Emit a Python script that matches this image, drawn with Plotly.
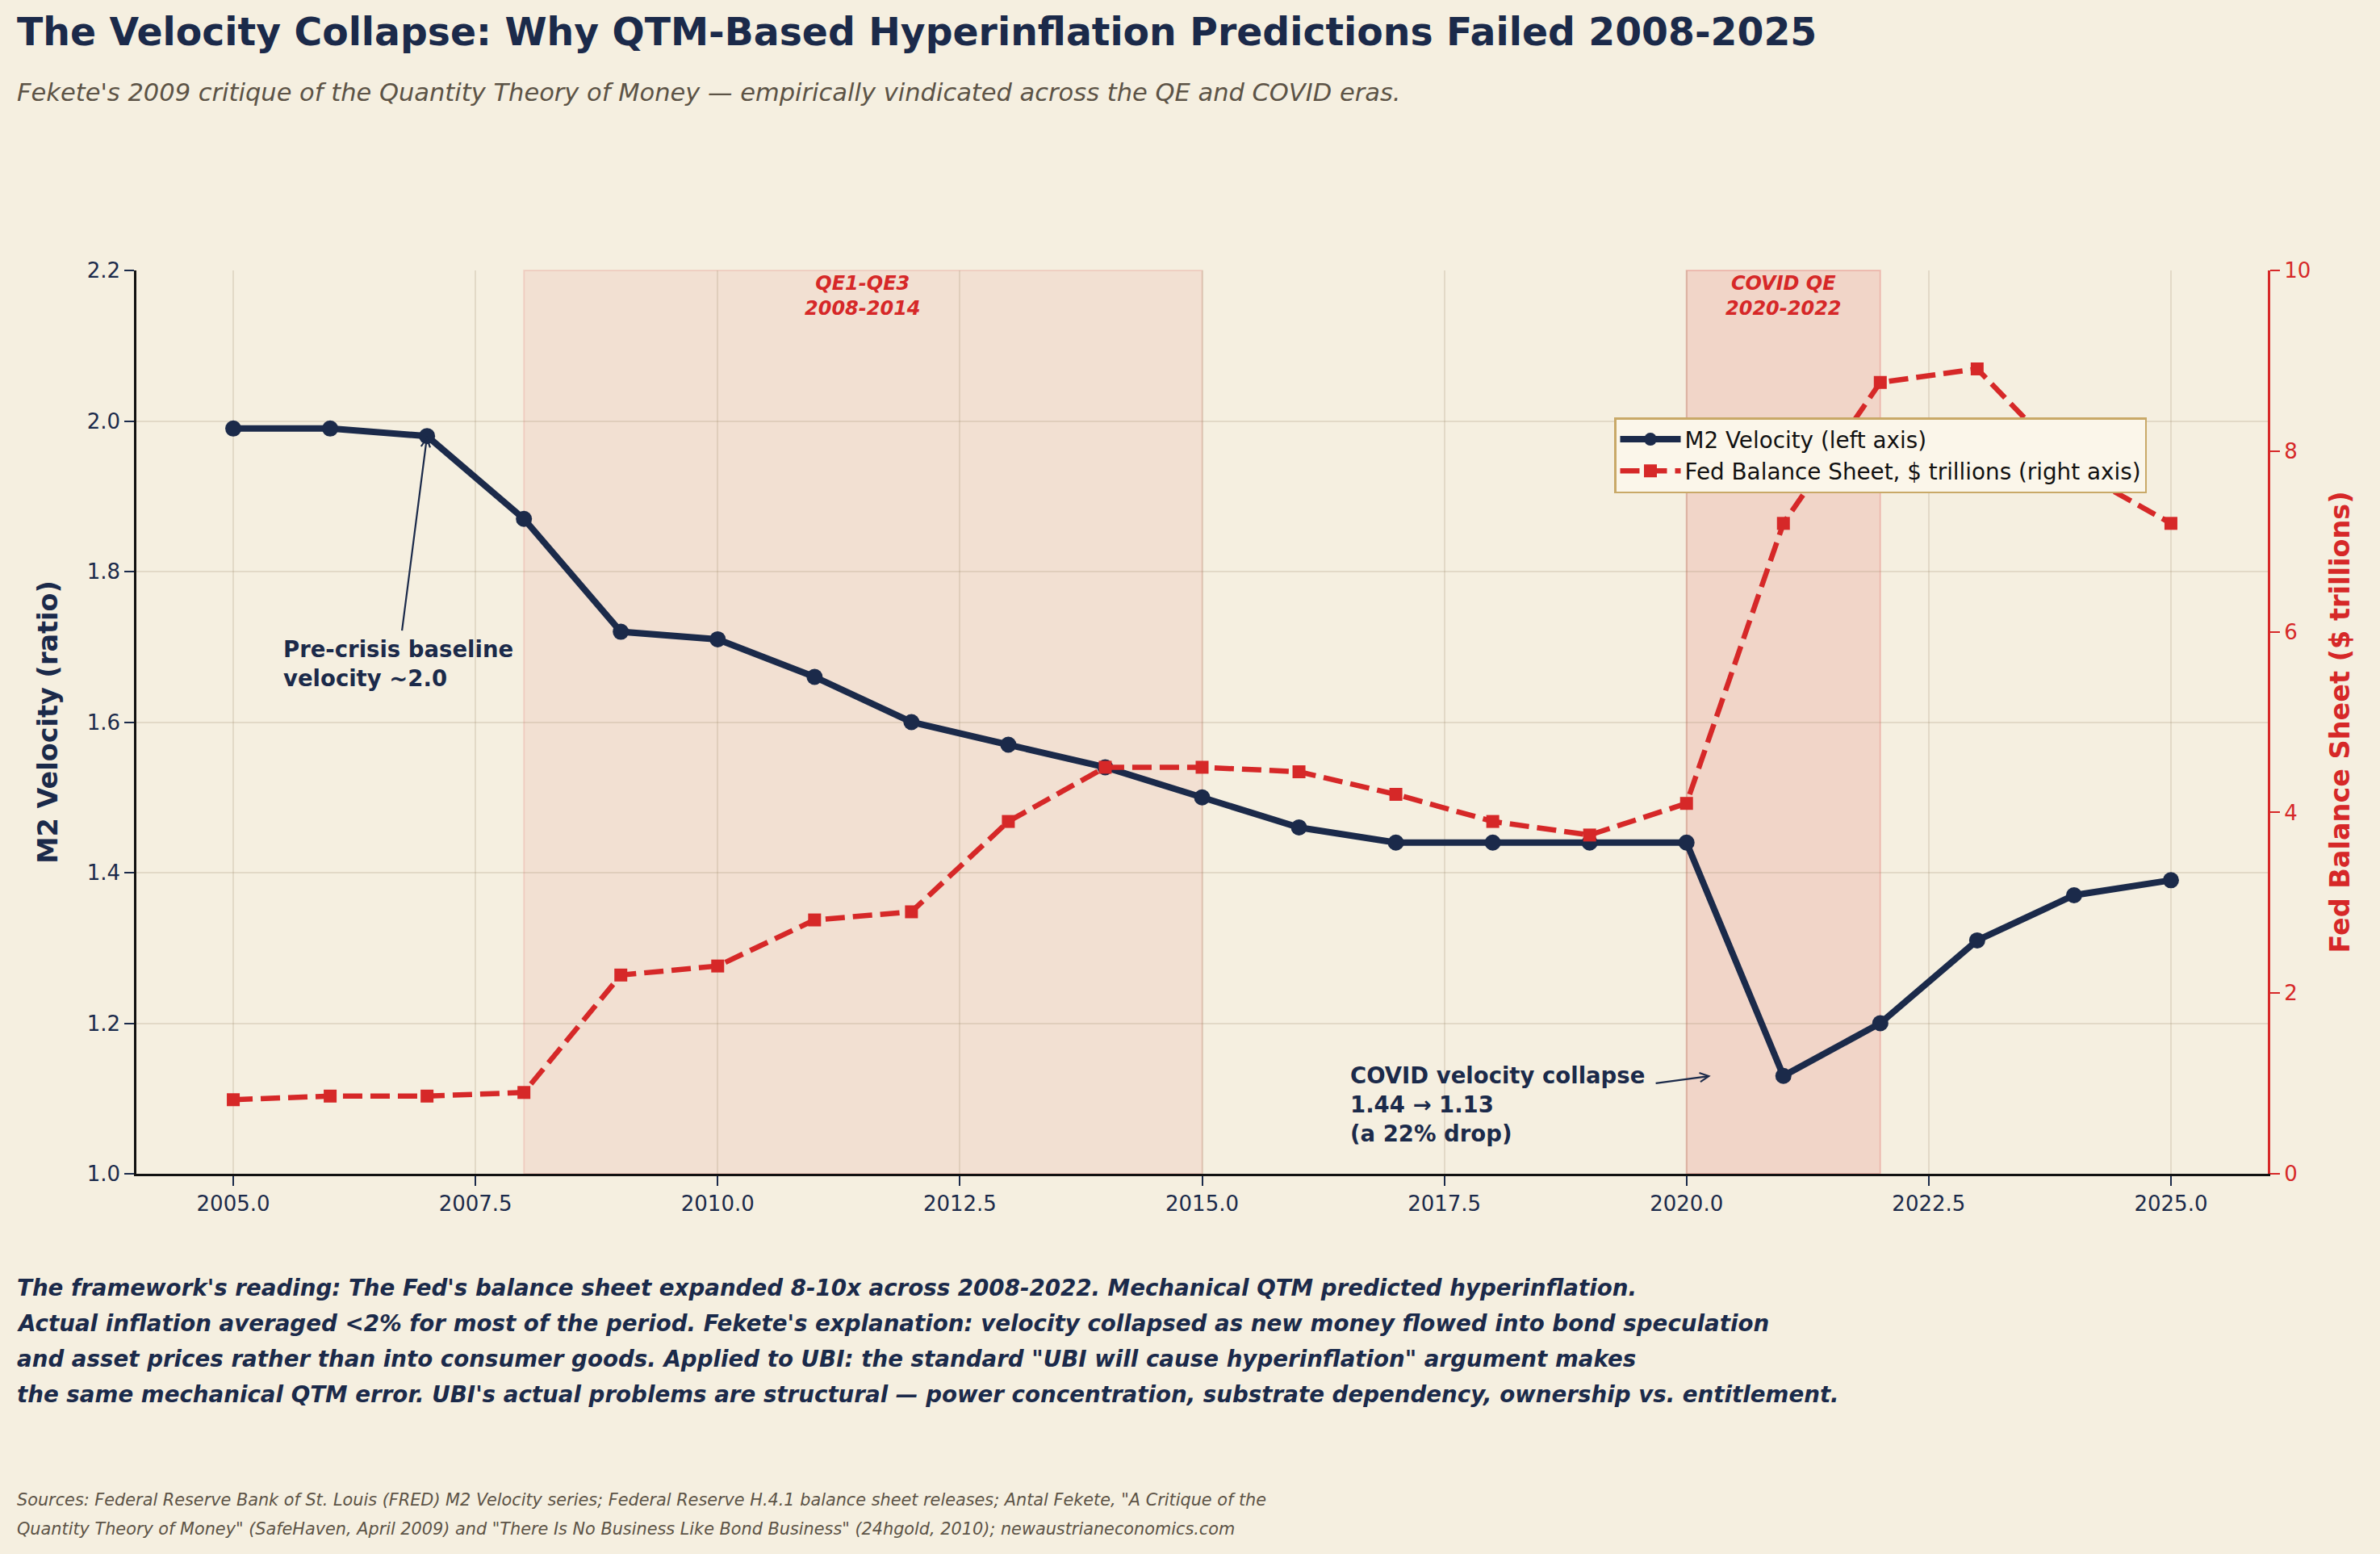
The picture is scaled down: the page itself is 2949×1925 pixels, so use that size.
import plotly.graph_objects as go

# ---------------- data ----------------
years = list(range(2005, 2026))
m2_velocity = [1.99, 1.99, 1.98, 1.87, 1.72, 1.71, 1.66, 1.60, 1.57, 1.54, 1.50,
               1.46, 1.44, 1.44, 1.44, 1.44, 1.13, 1.20, 1.31, 1.37, 1.39]
fed_balance = [0.82, 0.86, 0.86, 0.90, 2.20, 2.30, 2.81, 2.90, 3.90, 4.50, 4.50,
               4.45, 4.20, 3.90, 3.75, 4.10, 7.20, 8.76, 8.91, 7.80, 7.20]

qe_period = (2008, 2015)
covid_period = (2020, 2022)

title_text = "The Velocity Collapse: Why QTM-Based Hyperinflation Predictions Failed 2008-2025"
subtitle_text = ("Fekete's 2009 critique of the Quantity Theory of Money \u2014 "
                 "empirically vindicated across the QE and COVID eras.")
body_lines = [
    "The framework's reading: The Fed's balance sheet expanded 8-10x across 2008-2022. Mechanical QTM predicted hyperinflation.",
    "Actual inflation averaged <2% for most of the period. Fekete's explanation: velocity collapsed as new money flowed into bond speculation",
    "and asset prices rather than into consumer goods. Applied to UBI: the standard \"UBI will cause hyperinflation\" argument makes",
    "the same mechanical QTM error. UBI's actual problems are structural \u2014 power concentration, substrate dependency, ownership vs. entitlement.",
]
source_lines = [
    "Sources: Federal Reserve Bank of St. Louis (FRED) M2 Velocity series; Federal Reserve H.4.1 balance sheet releases; Antal Fekete, \"A Critique of the",
    "Quantity Theory of Money\" (SafeHaven, April 2009) and \"There Is No Business Like Bond Business\" (24hgold, 2010); newaustrianeconomics.com",
]

# ---------------- styling ----------------
W, H = 2949, 1925
L, R, T, B = 169, 2810, 335, 1454
BG = "#F5EFE0"
NAVY = "#1B2A4A"
RED = "#D62828"
MUTED = "#5C5346"
FONT = "DejaVu Sans"
GRID = "rgba(160,140,110,0.22)"


def px_x(px):
    return (px - L) / (R - L)


def px_y(py):
    return (B - py) / (B - T)


fig = go.Figure()

fig.add_trace(go.Scatter(
    x=years, y=m2_velocity, name="M2 Velocity (left axis)", mode="lines+markers",
    line=dict(color=NAVY, width=8), marker=dict(color=NAVY, size=20, symbol="circle"),
    yaxis="y"))
fig.add_trace(go.Scatter(
    x=years, y=fed_balance, name="Fed Balance Sheet, $ trillions (right axis)", mode="lines+markers",
    line=dict(color=RED, width=6.5, dash="24px,10px"),
    marker=dict(color=RED, size=16, symbol="square"),
    yaxis="y2"))

shapes = [
    dict(type="rect", xref="x", yref="paper", x0=qe_period[0], x1=qe_period[1], y0=0, y1=1,
         fillcolor="rgba(214,40,40,0.075)", line=dict(width=2, color="rgba(214,40,40,0.12)"), layer="below"),
    dict(type="rect", xref="x", yref="paper", x0=covid_period[0], x1=covid_period[1], y0=0, y1=1,
         fillcolor="rgba(214,40,40,0.13)", line=dict(width=2, color="rgba(214,40,40,0.2)"), layer="below"),
]

annotations = [
    dict(text=f"<b>{title_text}</b>", xref="paper", yref="paper", x=px_x(19), y=px_y(40),
         xanchor="left", yanchor="middle", showarrow=False,
         font=dict(family=FONT, size=47.3, color=NAVY)),
    dict(text=f"<i>{subtitle_text}</i>", xref="paper", yref="paper", x=px_x(19), y=px_y(115),
         xanchor="left", yanchor="middle", showarrow=False,
         font=dict(family=FONT, size=30.5, color=MUTED)),
    # period labels
    dict(text="<b><i>QE1-QE3<br>2008-2014</i></b>", xref="x", yref="paper",
         x=(qe_period[0] + qe_period[1]) / 2, y=1.0, xanchor="center", yanchor="top",
         showarrow=False, font=dict(family=FONT, size=24, color=RED)),
    dict(text="<b><i>COVID QE<br>2020-2022</i></b>", xref="x", yref="paper",
         x=(covid_period[0] + covid_period[1]) / 2, y=1.0, xanchor="center", yanchor="top",
         showarrow=False, font=dict(family=FONT, size=24, color=RED)),
    # pre-crisis annotation
    dict(text="<b>Pre-crisis baseline<br>velocity ~2.0</b>", xref="x", yref="y",
         x=2005.5, y=1.0 + (B - 822) / (B - T) * 1.2, xanchor="left", yanchor="middle",
         showarrow=False, align="left", font=dict(family=FONT, size=27.5, color=NAVY)),
    dict(text="", xref="x", yref="y", x=2007, y=1.98, axref="x", ayref="y",
         ax=2006.74, ay=1.72, showarrow=True, arrowhead=5, arrowsize=1, arrowwidth=2.2,
         arrowcolor=NAVY, standoff=0, startstandoff=0),
    # covid annotation
    dict(text="<b>COVID velocity collapse<br>1.44 \u2192 1.13<br>(a 22% drop)</b>", xref="x", yref="y",
         x=2016.51, y=1.0 + (B - 1368) / (B - T) * 1.2, xanchor="left", yanchor="middle",
         showarrow=False, align="left", font=dict(family=FONT, size=27.5, color=NAVY)),
    dict(text="", xref="x", yref="y", x=2020.25, y=1.13, axref="x", ayref="y",
         ax=2019.67, ay=1.12, showarrow=True, arrowhead=5, arrowsize=1, arrowwidth=2.2,
         arrowcolor=NAVY, standoff=0, startstandoff=0),
]

body_y = [1595, 1639, 1683, 1727]
for line, yy in zip(body_lines, body_y):
    annotations.append(dict(text=f"<b><i>{line}</i></b>", xref="paper", yref="paper",
                            x=px_x(19), y=px_y(yy), xanchor="left", yanchor="middle",
                            showarrow=False, font=dict(family=FONT, size=27.7, color=NAVY)))

src_y = [1858, 1894]
for line, yy in zip(source_lines, src_y):
    annotations.append(dict(text=f"<i>{line}</i>", xref="paper", yref="paper",
                            x=px_x(19), y=px_y(yy), xanchor="left", yanchor="middle",
                            showarrow=False, font=dict(family=FONT, size=20.8, color=MUTED)))

fig.update_layout(
    width=W, height=H,
    margin=dict(l=L, r=W - R, t=T, b=H - B, autoexpand=False),
    paper_bgcolor=BG, plot_bgcolor=BG,
    font=dict(family=FONT, color=NAVY),
    showlegend=True,
    legend=dict(x=px_x(2000), y=px_y(517), xanchor="left", yanchor="top",
                bgcolor="#FBF6EA", bordercolor="#C9A968", borderwidth=2.5,
                font=dict(family=FONT, size=27.8, color="#111111"),
                itemwidth=75, tracegroupgap=0),
    xaxis=dict(range=[2004, 2026], tick0=2005, dtick=2.5, tickformat=".1f",
               showgrid=True, gridcolor=GRID, gridwidth=2, zeroline=False,
               showline=True, linecolor="#111111", linewidth=2.5,
               ticks="outside", ticklen=12, tickwidth=2, tickcolor=NAVY,
               tickfont=dict(family=FONT, size=26, color=NAVY)),
    yaxis=dict(range=[1.0, 2.2], dtick=0.2, tickformat=".1f",
               showgrid=True, gridcolor=GRID, gridwidth=2, zeroline=False,
               showline=True, linecolor="#111111", linewidth=2.5,
               ticks="outside", ticklen=12, tickwidth=2, tickcolor=NAVY,
               tickfont=dict(family=FONT, size=26, color=NAVY),
               title=dict(text="<b>M2 Velocity (ratio)</b>", standoff=26,
                          font=dict(family=FONT, size=33.5, color=NAVY))),
    yaxis2=dict(range=[0, 10], dtick=2, overlaying="y", side="right",
                showgrid=False, zeroline=False,
                showline=True, linecolor=RED, linewidth=3,
                ticks="outside", ticklen=12, tickwidth=2, tickcolor=RED,
                tickfont=dict(family=FONT, size=26, color=RED),
                title=dict(text="<b>Fed Balance Sheet ($ trillions)</b>", standoff=26,
                           font=dict(family=FONT, size=33.5, color=RED))),
    shapes=shapes,
    annotations=annotations,
)

fig.write_html("out.html")
